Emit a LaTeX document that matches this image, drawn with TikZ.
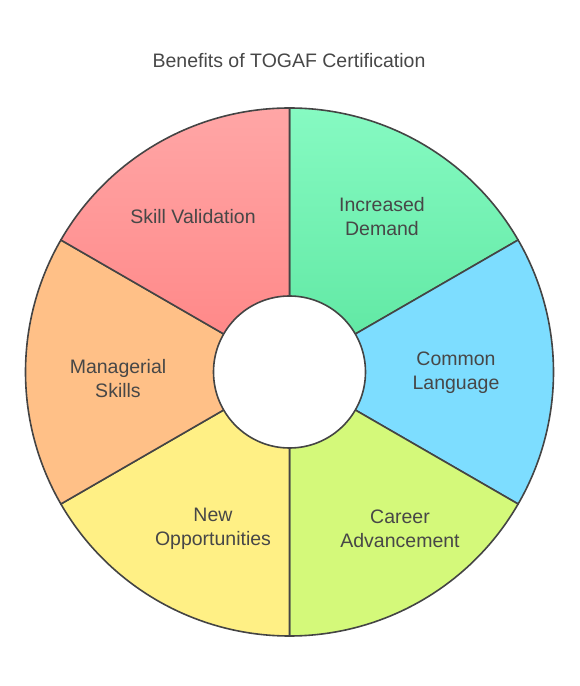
\documentclass[tikz,border=0pt]{standalone}
\usepackage{fontspec}
\setmainfont{Liberation Sans}
\definecolor{edge}{HTML}{444444}
\definecolor{txt}{HTML}{474747}
\definecolor{gtop}{HTML}{86FAC2}
\definecolor{gbot}{HTML}{5CE6A0}
\definecolor{rtop}{HTML}{FFA6A6}
\definecolor{rbot}{HTML}{FF8484}
\definecolor{cblue}{HTML}{7DDDFF}
\definecolor{clime}{HTML}{D4F97A}
\definecolor{cyel}{HTML}{FFF085}
\definecolor{corange}{HTML}{FFC087}
\begin{document}
\begin{tikzpicture}[x=1pt,y=1pt,
  seg/.style={draw=edge,line width=1.6pt,line join=round},
  lbl/.style={text=txt,font=\fontsize{19.5}{24}\selectfont,align=center,inner sep=0pt}]
\useasboundingbox (0,0) rectangle (579,686);
\coordinate (c) at (289.5,314);
\def\R{264}
\def\sector#1#2{(c) -- ++(#1:\R) arc[start angle=#1,end angle=#2,radius=\R] -- cycle}
\shade[top color=gtop,bottom color=gbot] \sector{30}{90};
\draw[seg] \sector{30}{90};
\filldraw[seg,fill=cblue] \sector{-30}{30};
\filldraw[seg,fill=clime] \sector{-90}{-30};
\filldraw[seg,fill=cyel] \sector{-150}{-90};
\filldraw[seg,fill=corange] \sector{150}{210};
\shade[top color=rtop,bottom color=rbot] \sector{90}{150};
\draw[seg] \sector{90}{150};
\node[circle,draw=edge,line width=1.6pt,fill=white,minimum size=152pt,inner sep=0pt] (hole) at (c) {};
\node[lbl] (title) at (289,625) {Benefits of TOGAF Certification};
\node[lbl] (inc) at (382,469) {Increased\\Demand};
\node[lbl] (com) at (456,313) {Common\\Language};
\node[lbl] (car) at (400,157) {Career\\Advancement};
\node[lbl] (new) at (213,157) {New\\Opportunities};
\node[lbl] (man) at (118,307) {Managerial\\Skills};
\node[lbl] (ski) at (193,469) {Skill Validation};
\end{tikzpicture}
\end{document}
